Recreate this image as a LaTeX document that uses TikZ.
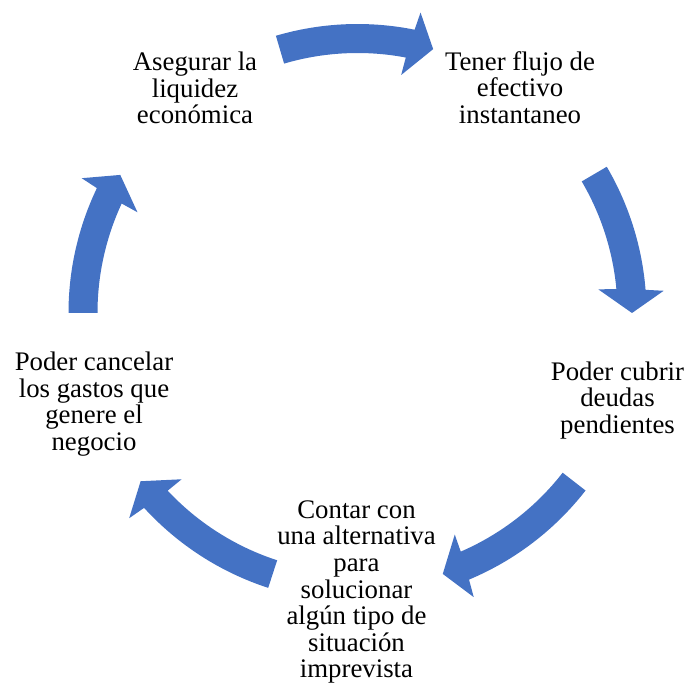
\documentclass[tikz,border=0pt]{standalone}
\usepackage{fontspec}
\newfontfamily\cyclefont{Liberation Serif}[Ligatures=NoCommon]
\definecolor{cycleblue}{HTML}{4472C4}
\tikzset{
  cyclearrow/.style={fill=cycleblue, draw=none},
  cyclelabel/.style={align=center, inner sep=0pt}
}
% #1 = tail angle, #2 = tip angle (TikZ angles in flipped pixel frame)
\newcommand{\cyclearrowpath}[2]{%
  \fill[cyclearrow] (#1:289)
    arc[start angle=#1, end angle={#2-4.6}, radius=289]
    -- ({#2-4.15}:307) -- (#2:274.5) -- ({#2-5.6}:242) -- ({#2-5.3}:260)
    arc[start angle={#2-5.3}, end angle=#1, radius=260] -- cycle;}
\begin{document}
\begin{tikzpicture}[x=1pt, y=-1pt]
\useasboundingbox (0,0) rectangle (688,684);
\begin{scope}[shift={(357.5,313)}]
  \cyclearrowpath{-106.4}{-74}
  \cyclearrowpath{-30.4}{0}
  \cyclearrowpath{37.9}{71.9}
  \cyclearrowpath{108}{142.2}
  \cyclearrowpath{180}{210.2}
\end{scope}
\node[cyclelabel, font=\cyclefont\fontsize{26.8}{26.6}\selectfont] (n1) at (195,88) {Asegurar la\\liquidez\\económica};
\node[cyclelabel, font=\cyclefont\fontsize{26.8}{26.6}\selectfont] (n2) at (520,87.5) {Tener flujo de\\efectivo\\instantaneo};
\node[cyclelabel, font=\cyclefont\fontsize{26.8}{26.6}\selectfont] (n3) at (617.5,400.5) {Poder cubrir\\deudas\\pendientes};
\node[cyclelabel, font=\cyclefont\fontsize{26.8}{26.6}\selectfont] (n4) at (94,404) {Poder cancelar\\los gastos que\\genere el\\negocio};
\node[cyclelabel, font=\cyclefont\fontsize{26.8}{26.6}\selectfont] (n5) at (356.5,592) {Contar con\\una alternativa\\para\\solucionar\\algún tipo de\\situación\\imprevista};
\end{tikzpicture}
\end{document}
